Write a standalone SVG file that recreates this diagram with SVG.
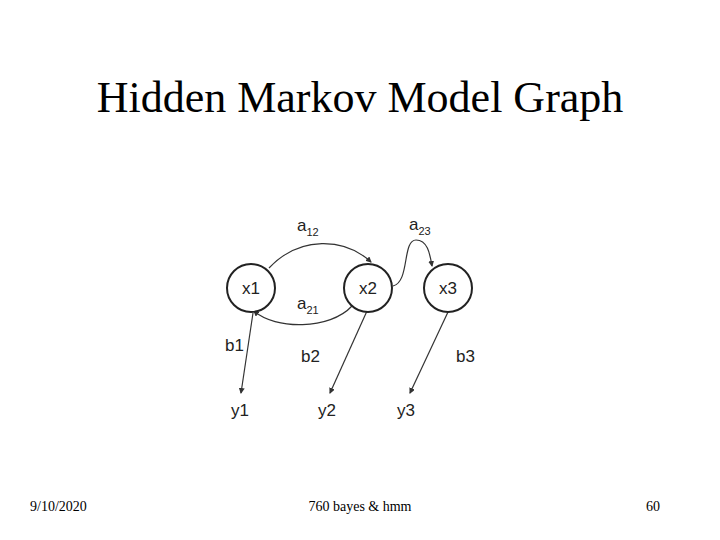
<svg xmlns="http://www.w3.org/2000/svg" width="720" height="540" viewBox="0 0 720 540">
<style>
.t{font-family:"Liberation Serif",serif;fill:#000}
.s{font-family:"Liberation Sans",Arial,sans-serif;font-size:17px;fill:#222}
.sub{font-size:11px}
circle{fill:#fff;stroke:#222;stroke-width:2}
.e{fill:none;stroke:#333;stroke-width:1.2;marker-end:url(#ah)}
</style>
<defs><marker id="ah" markerWidth="6" markerHeight="6" refX="5" refY="3" orient="auto" markerUnits="userSpaceOnUse"><path d="M0,0L6,3L0,6z" fill="#333"/></marker></defs>
<rect width="720" height="540" fill="#fff"/>
<text class="t" x="360" y="112" font-size="44" text-anchor="middle">Hidden Markov Model Graph</text>
<g id="edges">
<path class="e" d="M269,268 C300,235 345,238 371,262"/>
<path class="e" d="M352,306 C330,330 275,330 254,311"/>
<path class="e" d="M393,286 C410,282 402,240 416,240 C428,240 430,255 432,266"/>
<path class="e" d="M253,313 L241,393"/>
<path class="e" d="M367,311 L330,393"/>
<path class="e" d="M448,312 L410,393"/>
</g>
<g id="x1"><circle cx="251" cy="288" r="24"/><text class="s" x="251" y="294" text-anchor="middle">x1</text></g>
<g id="x2"><circle cx="368" cy="288" r="24"/><text class="s" x="368" y="294" text-anchor="middle">x2</text></g>
<g id="x3"><circle cx="448" cy="288" r="24"/><text class="s" x="448" y="294" text-anchor="middle">x3</text></g>
<g id="y1"><text class="s" x="240" y="416" text-anchor="middle">y1</text></g>
<g id="y2"><text class="s" x="327" y="416" text-anchor="middle">y2</text></g>
<g id="y3"><text class="s" x="406" y="416" text-anchor="middle">y3</text></g>
<g id="labels">
<text class="s" x="297" y="231">a<tspan class="sub" dy="5">12</tspan></text>
<text class="s" x="409" y="230">a<tspan class="sub" dy="5">23</tspan></text>
<text class="s" x="297" y="309">a<tspan class="sub" dy="5">21</tspan></text>
<text class="s" x="225" y="351">b1</text>
<text class="s" x="301" y="362">b2</text>
<text class="s" x="456" y="362">b3</text>
</g>
<text class="t" x="30" y="511" font-size="14">9/10/2020</text>
<text class="t" x="360" y="511" font-size="14" text-anchor="middle">760 bayes &amp; hmm</text>
<text class="t" x="660" y="511" font-size="14" text-anchor="end">60</text>
</svg>
